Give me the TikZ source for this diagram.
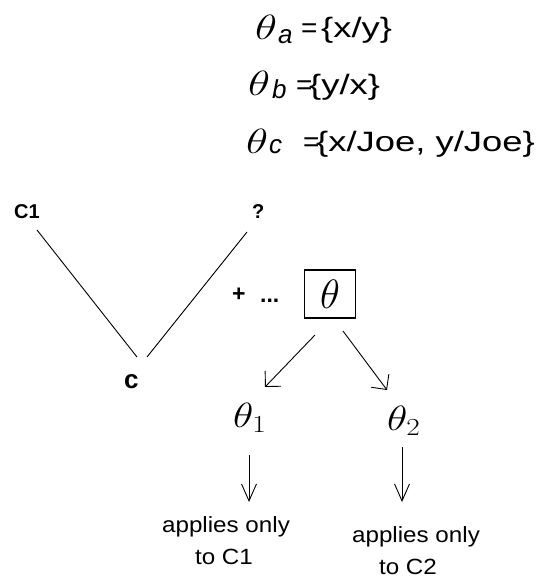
\RequirePackage{fix-cm}
\documentclass[tikz,border=0pt]{standalone}
\usepackage{fontspec}
\usepackage{graphicx}
\setmainfont{Liberation Sans}
\newfontfamily\widefont[FakeStretch=1.3]{Liberation Sans}
\newfontfamily\botfontfam[FakeStretch=1.1]{Liberation Sans}
\usetikzlibrary{arrows.meta}
\begin{document}
\begin{tikzpicture}[x=1pt,y=-1pt,
  lbl/.style={inner sep=0pt, anchor=base west},
  th/.style={lbl, font=\fontsize{35}{35}\selectfont},
  subs/.style={lbl, font=\fontsize{26}{26}\selectfont\itshape},
  eqs/.style={lbl, font=\fontsize{28}{28}\selectfont},
  sets/.style={lbl, font=\widefont\fontsize{28}{28}\selectfont},
  boldlbl/.style={lbl, font=\fontsize{20}{20}\selectfont\bfseries},
  note/.style={inner sep=0pt, anchor=base, font=\botfontfam\fontsize{22}{22}\selectfont},
  edge/.style={line width=0.9pt},
  arr/.style={line width=0.9pt, -{Straight Barb[length=11pt,width=22pt]}},
  darr/.style={line width=0.9pt, -{Straight Barb[length=17pt,width=15pt]}}
]
\useasboundingbox (0,0) rectangle (542,581);
% top definitions
\node[th] (tha) at (255,39) {\scalebox{1.3}[1]{$\theta$}};
\node[subs] (suba) at (278,43) {a};
\node[eqs] (eqa) at (301,37) {=};
\node[sets] (seta) at (321,37) {\{x/y\}};
\node[th] (thb) at (248,95) {\scalebox{1.3}[1]{$\theta$}};
\node[subs] (subb) at (272,98) {b};
\node[eqs] (eqb) at (296,94) {=};
\node[sets] (setb) at (309,94) {\{y/x\}};
\node[th] (thc) at (246,153) {\scalebox{1.3}[1]{$\theta$}};
\node[subs] (subc) at (269,153) {c};
\node[eqs] (eqc) at (303,151) {=};
\node[sets] (setc) at (316,151) {\{x/Joe, y/Joe\}};
% V shape
\node[boldlbl] (c1) at (14,218) {C1};
\node[boldlbl] (q) at (252,218) {?};
\node[lbl, font=\fontsize{26}{26}\selectfont\bfseries] (c) at (124,388) {c};
\coordinate (c1end) at (37,230);
\coordinate (qend) at (247,232);
\coordinate (cl) at (137,357);
\coordinate (cr) at (147,357);
\draw[edge] (c1end) -- (cl);
\draw[edge] (qend) -- (cr);
% plus dots
\node[lbl, font=\fontsize{23}{23}\selectfont\bfseries] (plus) at (232,301) {+};
\node[lbl, font=\fontsize{23}{23}\selectfont\bfseries] (dots) at (260,302) {...};
% theta box
\node[draw, line width=1.1pt, minimum width=51pt, minimum height=48pt, inner sep=0pt,
      font=\fontsize{41}{41}\selectfont] (tb) at (330,294) {$\theta$};
\node[th] (t1) at (233,427) {\scalebox{1.2}[1]{$\theta_1$}};
\node[th] (t2) at (387,430) {\scalebox{1.2}[1]{$\theta_2$}};
\coordinate (a1s) at (315,335);
\coordinate (a1e) at (265,387);
\coordinate (a2s) at (343,331);
\coordinate (a2e) at (387,390);
\draw[arr] (a1s) -- (a1e);
\draw[arr] (a2s) -- (a2e);
\coordinate (d1s) at (249,455);
\coordinate (d1e) at (249,502);
\coordinate (d2s) at (402,447);
\coordinate (d2e) at (402,502);
\draw[darr] (d1s) -- (d1e);
\draw[darr] (d2s) -- (d2e);
% notes
\node[note] (n1a) at (226,532) {applies only};
\node[note] (n1b) at (224,564) {to C1};
\node[note] (n2a) at (416,542) {applies only};
\node[note] (n2b) at (408,574) {to C2};
\end{tikzpicture}
\end{document}
